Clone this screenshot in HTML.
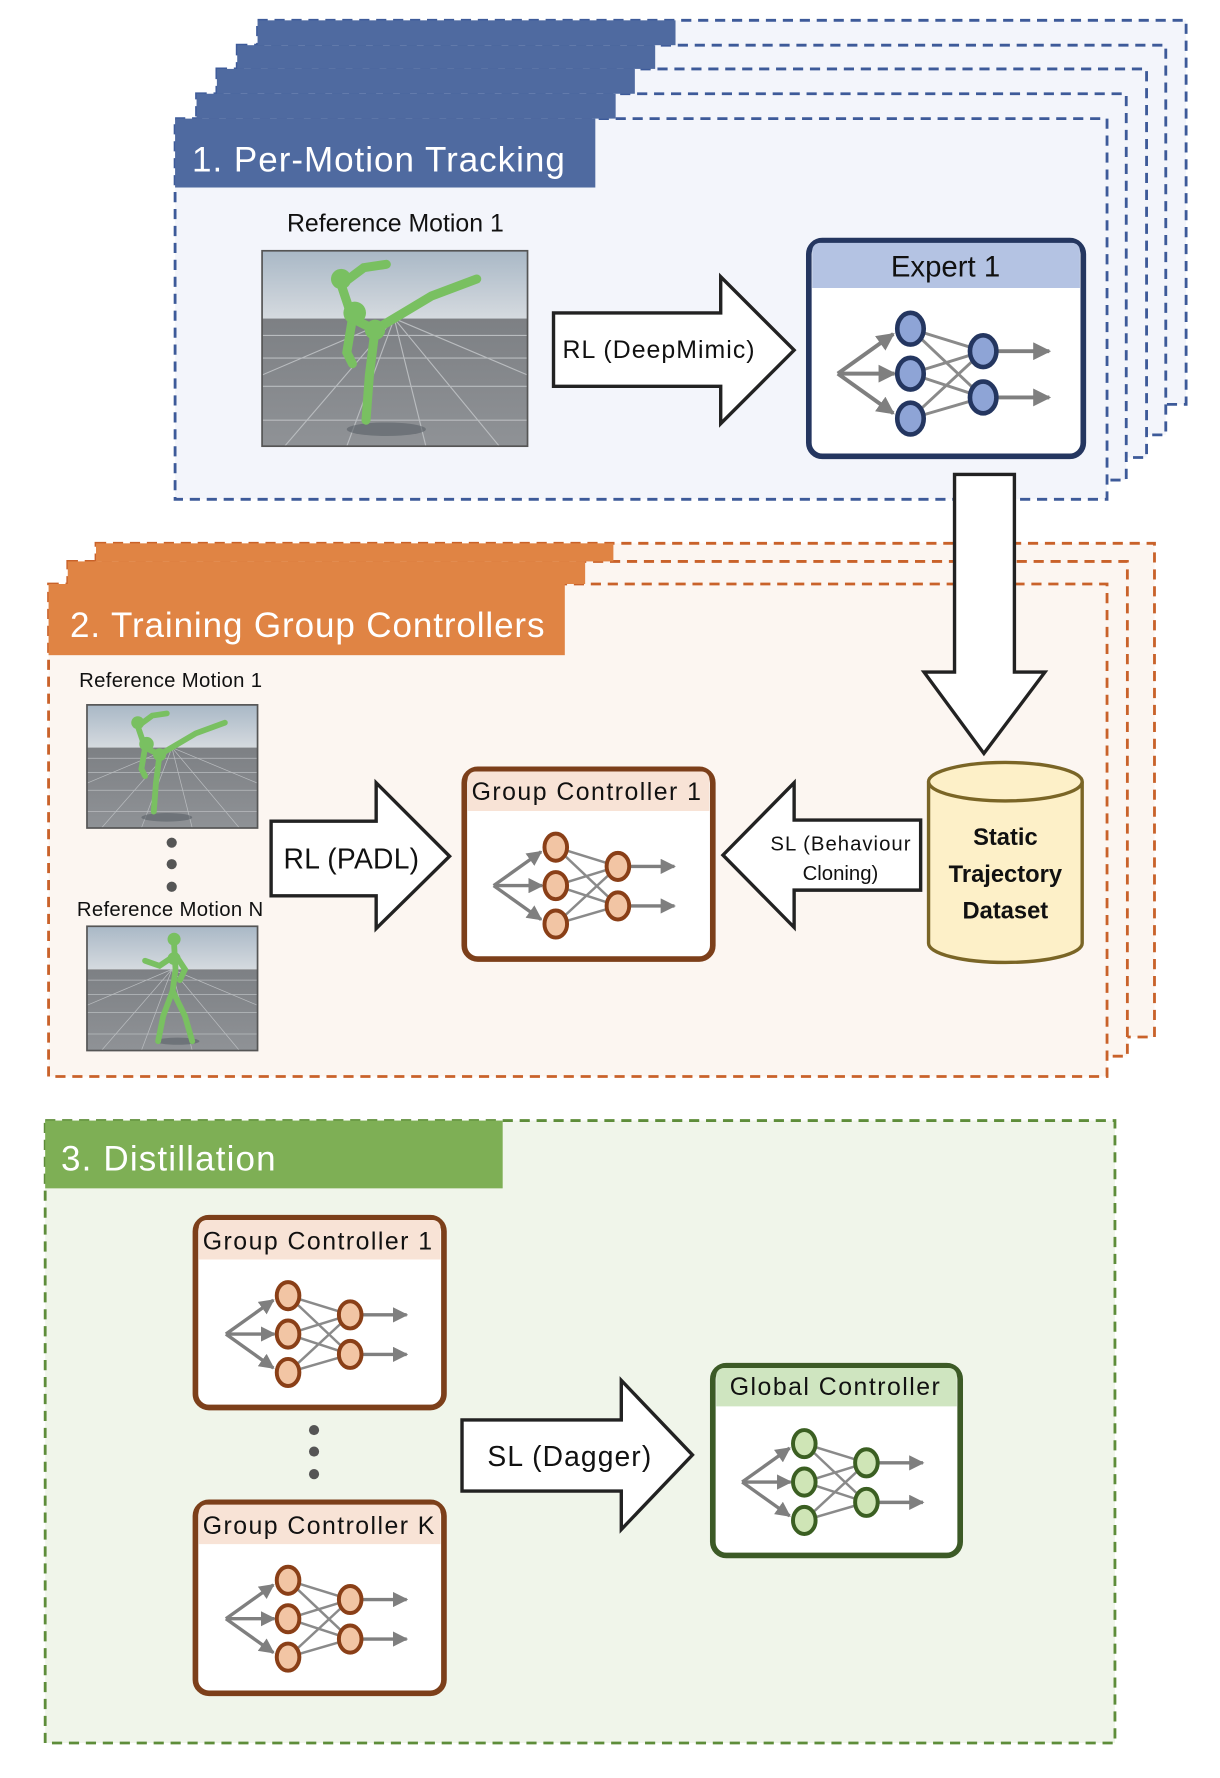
<!DOCTYPE html>
<html><head><meta charset="utf-8"><style>
html,body{margin:0;padding:0;background:#fff;}
svg{display:block;}
text{font-family:"Liberation Sans","DejaVu Sans",sans-serif;}
</style></head><body>
<svg width="1220" height="1778" viewBox="0 0 1080 1574" preserveAspectRatio="none" xmlns="http://www.w3.org/2000/svg">
<defs>
<marker id="ah" viewBox="0 0 10 10" refX="9" refY="5" markerWidth="4.5" markerHeight="4.5" orient="auto" markerUnits="strokeWidth">
<path d="M0,0 L10,5 L0,10 z" fill="#7f7f7f"/></marker>
<g id="net">
<g stroke="#8a8a8a" stroke-width="2.2" fill="none">
<line x1="0" y1="0" x2="55" y2="17"/><line x1="0" y1="0" x2="55" y2="52"/>
<line x1="0" y1="34" x2="55" y2="17"/><line x1="0" y1="34" x2="55" y2="52"/>
<line x1="0" y1="68" x2="55" y2="17"/><line x1="0" y1="68" x2="55" y2="52"/>
</g>
<g stroke="#7f7f7f" stroke-width="3" fill="none" marker-end="url(#ah)">
<line x1="-55" y1="34" x2="-13" y2="4"/>
<line x1="-55" y1="34" x2="-12" y2="34"/>
<line x1="-55" y1="34" x2="-13" y2="64"/>
<line x1="66" y1="17" x2="105" y2="17"/>
<line x1="66" y1="52" x2="105" y2="52"/>
</g>
<g stroke-width="3.5">
<ellipse cx="0" cy="0" rx="10" ry="12"/><ellipse cx="0" cy="34" rx="10" ry="12"/><ellipse cx="0" cy="68" rx="10" ry="12"/>
<ellipse cx="55" cy="17" rx="10" ry="12"/><ellipse cx="55" cy="52" rx="10" ry="12"/>
</g>
</g>
<linearGradient id="sky" x1="0" y1="0" x2="0" y2="1"><stop offset="0" stop-color="#a9b8c6"/><stop offset="1" stop-color="#d5dadf"/></linearGradient>
<linearGradient id="floor" x1="0" y1="0" x2="0" y2="1"><stop offset="0" stop-color="#7d8084"/><stop offset="1" stop-color="#8f9296"/></linearGradient>
<g id="bg">
<rect x="0" y="0" width="235" height="60" fill="url(#sky)"/>
<rect x="0" y="60" width="235" height="113" fill="url(#floor)"/>
<g stroke="#b9bcbf" stroke-width="1" fill="none">
<line x1="0" y1="75" x2="235" y2="75"/><line x1="0" y1="95" x2="235" y2="95"/><line x1="0" y1="120" x2="235" y2="120"/><line x1="0" y1="150" x2="235" y2="150"/>
<line x1="117" y1="60" x2="20" y2="173"/><line x1="117" y1="60" x2="75" y2="173"/><line x1="117" y1="60" x2="145" y2="173"/><line x1="117" y1="60" x2="210" y2="173"/>
<line x1="117" y1="60" x2="0" y2="110"/><line x1="117" y1="60" x2="235" y2="110"/>
</g>
</g>
<symbol id="scene" viewBox="0 0 235 173" preserveAspectRatio="none">
<use href="#bg"/>
<ellipse cx="110" cy="158" rx="35" ry="6" fill="#5a6068" opacity="0.6"/>
<g stroke="#79c061" stroke-width="8" stroke-linecap="round" fill="none">
<path d="M70,30 L80,60 L100,70 L150,40 L190,25"/>
<path d="M70,30 L90,15 L110,12"/>
<path d="M80,60 L75,90 L80,100"/>
<path d="M100,70 L95,110 L92,150"/>
</g>
<circle cx="70" cy="25" r="9" fill="#79c061"/><circle cx="82" cy="55" r="10" fill="#79c061"/><circle cx="100" cy="70" r="9" fill="#79c061"/>
</symbol>
<symbol id="scene2" viewBox="0 0 235 173" preserveAspectRatio="none">
<use href="#bg"/>
<ellipse cx="125" cy="160" rx="30" ry="5" fill="#5a6068" opacity="0.6"/>
<g stroke="#79c061" stroke-width="8" stroke-linecap="round" fill="none">
<path d="M120,25 L122,60 L118,90"/>
<path d="M122,40 L100,55 L80,48"/>
<path d="M122,40 L135,60 L128,75"/>
<path d="M118,90 L105,125 L98,160"/>
<path d="M118,90 L135,125 L145,160"/>
</g>
<circle cx="120" cy="18" r="9" fill="#79c061"/><circle cx="120" cy="45" r="9" fill="#79c061"/>
</symbol>
</defs>

<g stroke="#3d5a99" stroke-width="2.5" stroke-dasharray="9,6" fill="#f3f5fb">
<rect x="228" y="18" width="822" height="340"/>
<rect x="210" y="40" width="822" height="345"/>
<rect x="192" y="61" width="823" height="344"/>
<rect x="174" y="83" width="823" height="342"/>
<rect x="155" y="105" width="825" height="337"/>
</g>
<g fill="#4f6aa0">
<rect x="228" y="18" width="370" height="22"/>
<rect x="210" y="40" width="370" height="21"/>
<rect x="192" y="61" width="370" height="22"/>
<rect x="174" y="83" width="371" height="22"/>
<rect x="155" y="105" width="372" height="61"/>
</g>
<text x="170" y="152" font-size="31" fill="#fff" textLength="330">1. Per-Motion Tracking</text>
<text x="350" y="205" font-size="22" text-anchor="middle" fill="#111">Reference Motion 1</text>
<use href="#scene" x="232" y="222" width="235" height="173"/>
<rect x="232" y="222" width="235" height="173" fill="none" stroke="#555" stroke-width="1.5"/>
<path d="M490,277 H638 V245 L703,310 L638,375 V342 H490 Z" fill="#fff" stroke="#222" stroke-width="3"/>
<text x="583" y="317" font-size="22" text-anchor="middle" fill="#111" textLength="170">RL (DeepMimic)</text>
<rect x="716" y="213" width="243" height="191" rx="12" fill="#fff" stroke="#243660" stroke-width="5"/>
<path d="M719,255 V222 a7,7 0 0 1 7,-7 H949 a7,7 0 0 1 7,7 V255 Z" fill="#b4c3e3"/>
<text x="837" y="245" font-size="26" text-anchor="middle" fill="#111">Expert 1</text>
<use href="#net" transform="translate(806,291) scale(1.17)" fill="#8ea4d6" stroke="#243660"/>

<g stroke="#c9622a" stroke-width="2.5" stroke-dasharray="9,6" fill="#fcf6f1">
<rect x="85" y="481" width="937" height="437"/>
<rect x="60" y="497" width="938" height="438"/>
<rect x="43" y="517" width="937" height="436"/>
</g>
<g fill="#e08444">
<rect x="85" y="481" width="458" height="16"/>
<rect x="60" y="497" width="458" height="20"/>
<rect x="43" y="517" width="457" height="63"/>
</g>
<text x="62" y="564" font-size="31" fill="#fff" textLength="420">2. Training Group Controllers</text>

<path d="M845,420 H898 V595 H925 L871,667 L818,595 H845 Z" fill="#fff" stroke="#222" stroke-width="3"/>

<text x="70" y="608" font-size="18" fill="#111" textLength="162">Reference Motion 1</text>
<use href="#scene" x="77" y="624" width="151" height="109"/>
<rect x="77" y="624" width="151" height="109" fill="none" stroke="#555" stroke-width="1.5"/>
<circle cx="152" cy="746" r="4.5" fill="#555"/><circle cx="152" cy="765" r="4.5" fill="#555"/><circle cx="152" cy="785" r="4.5" fill="#555"/>
<text x="68" y="811" font-size="18" fill="#111" textLength="165">Reference Motion N</text>
<use href="#scene2" x="77" y="820" width="151" height="110"/>
<rect x="77" y="820" width="151" height="110" fill="none" stroke="#555" stroke-width="1.5"/>
<path d="M240,727 H333 V693 L398,758 L333,822 V793 H240 Z" fill="#fff" stroke="#222" stroke-width="3"/>
<text x="251" y="769" font-size="25" fill="#111" textLength="120">RL (PADL)</text>
<rect x="411" y="681" width="220" height="168" rx="12" fill="#fff" stroke="#7c3f1a" stroke-width="5"/>
<path d="M414,718 V690 a7,7 0 0 1 7,-7 H621 a7,7 0 0 1 7,7 V718 Z" fill="#f8e3d6"/>
<text x="519" y="708" font-size="22" text-anchor="middle" fill="#111" textLength="203">Group Controller 1</text>
<use href="#net" transform="translate(492,750)" fill="#f2c5a4" stroke="#8a3f17"/>
<path d="M815,726 H703 V693 L640,757 L703,821 V788 H815 Z" fill="#fff" stroke="#222" stroke-width="3"/>
<text x="744" y="753" font-size="18" text-anchor="middle" fill="#111" textLength="124">SL (Behaviour</text>
<text x="744" y="779" font-size="18" text-anchor="middle" fill="#111">Cloning)</text>
<path d="M822,692 V835 A68,17 0 0 0 958,835 V692" fill="#fdf0c8" stroke="#7a6526" stroke-width="3"/>
<ellipse cx="890" cy="692" rx="68" ry="17" fill="#fdf0c8" stroke="#7a6526" stroke-width="3"/>
<g font-size="21" font-weight="bold" text-anchor="middle" fill="#111">
<text x="890" y="748">Static</text><text x="890" y="781">Trajectory</text><text x="890" y="813">Dataset</text>
</g>

<rect x="40" y="992" width="947" height="551" fill="#f0f5ea" stroke="#5e8d3a" stroke-width="2.5" stroke-dasharray="9,6"/>
<rect x="40" y="992" width="405" height="60" fill="#7eaf55"/>
<text x="54" y="1036" font-size="31" fill="#fff" textLength="190">3. Distillation</text>

<rect x="173" y="1078" width="220" height="168" rx="12" fill="#fff" stroke="#7c3f1a" stroke-width="5"/>
<path d="M176,1115 V1087 a7,7 0 0 1 7,-7 H383 a7,7 0 0 1 7,7 V1115 Z" fill="#f8e3d6"/>
<text x="281" y="1106" font-size="22" text-anchor="middle" fill="#111" textLength="203">Group Controller 1</text>
<use href="#net" transform="translate(255,1147)" fill="#f2c5a4" stroke="#8a3f17"/>

<circle cx="278" cy="1266" r="4.5" fill="#555"/><circle cx="278" cy="1285" r="4.5" fill="#555"/><circle cx="278" cy="1305" r="4.5" fill="#555"/>

<rect x="173" y="1330" width="220" height="169" rx="12" fill="#fff" stroke="#7c3f1a" stroke-width="5"/>
<path d="M176,1367 V1339 a7,7 0 0 1 7,-7 H383 a7,7 0 0 1 7,7 V1367 Z" fill="#f8e3d6"/>
<text x="282" y="1358" font-size="22" text-anchor="middle" fill="#111" textLength="205">Group Controller K</text>
<use href="#net" transform="translate(255,1399)" fill="#f2c5a4" stroke="#8a3f17"/>

<path d="M409,1257 H550 V1222 L613,1288 L550,1354 V1320 H409 Z" fill="#fff" stroke="#222" stroke-width="3"/>
<text x="504" y="1298" font-size="25" text-anchor="middle" fill="#111" textLength="145">SL (Dagger)</text>

<rect x="631" y="1209" width="219" height="168" rx="12" fill="#fff" stroke="#3c5a26" stroke-width="5"/>
<path d="M634,1245 V1218 a7,7 0 0 1 7,-7 H840 a7,7 0 0 1 7,7 V1245 Z" fill="#cfe5c0"/>
<text x="739" y="1235" font-size="22" text-anchor="middle" fill="#111" textLength="186">Global Controller</text>
<use href="#net" transform="translate(712,1278)" fill="#cfe5b6" stroke="#3b5f22"/>
</svg>
</body></html>
